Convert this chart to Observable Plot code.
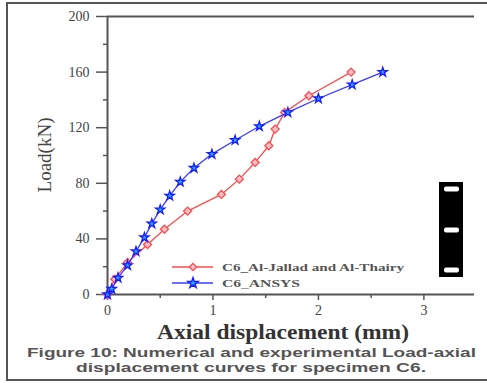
<!DOCTYPE html>
<html>
<head>
<meta charset="utf-8">
<script src="https://cdn.jsdelivr.net/npm/d3@7"></script>
<script src="https://cdn.jsdelivr.net/npm/@observablehq/plot@0.6"></script>
<style>
  html, body { margin: 0; padding: 0; background: #fff; }
  #wrap { position: relative; width: 487px; height: 383px; overflow: hidden; }
</style>
</head>
<body>
<div id="wrap"></div>
<script>
// ---- data ----
const expX = [0, 0.07, 0.19, 0.38, 0.54, 0.76, 1.08, 1.25, 1.40, 1.53, 1.59, 1.68, 1.91, 2.31];
const expY = [0, 11, 23, 36, 47, 60, 72, 83, 95, 107, 119, 131, 143, 160];
const ansX = [0, 0.04, 0.10, 0.19, 0.27, 0.35, 0.42, 0.50, 0.59, 0.69, 0.82, 0.99, 1.21, 1.44, 1.71, 2.00, 2.32, 2.61];
const ansY = [0, 4, 12, 21, 31, 41, 51, 61, 71, 81, 91, 101, 111, 121, 131, 141, 151, 160];
const yTicks = [0, 40, 80, 120, 160, 200];
const yMinor = [20, 60, 100, 140, 180];
const xTicks = [0, 1, 2, 3];
const xMinor = [0.5, 1.5, 2.5];
const seriesNames = ["C6_Al-Jallad and Al-Thairy", "C6_ANSYS"];
const xLabel = "Axial displacement (mm)";
const yLabel = "Load(kN)";
const captionLines = ["Figure 10: Numerical and experimental Load-axial", "displacement curves for specimen C6."];

const exp = expX.map((x, i) => ({x, y: expY[i]}));
const ans = ansX.map((x, i) => ({x, y: ansY[i]}));

const serif = "'Liberation Serif', 'Times New Roman', serif";
const axisCol = "#555";
const red = "#ff4a4a";
const blue = "#3a3aff";

const W = 487, H = 383;
const plot = Plot.plot({
  width: W, height: H,
  marginLeft: 107, marginRight: 13, marginTop: 16, marginBottom: 89,
  style: {background: "transparent", overflow: "visible", fontFamily: serif},
  x: {type: "linear", domain: [0, 3.48], axis: null},
  y: {type: "linear", domain: [0, 200], axis: null},
  marks: [
    // frame lines
    Plot.ruleY([200], {stroke: axisCol, strokeWidth: 2}),
    Plot.ruleY([0], {stroke: axisCol, strokeWidth: 2}),
    Plot.ruleX([0], {stroke: axisCol, strokeWidth: 2}),
    // axes
    Plot.axisY({ticks: yTicks, tickSize: 11, tickPadding: 7, stroke: axisCol, strokeWidth: 1.5,
      fontSize: 14, fill: "#444", label: null, anchor: "left", tickFormat: d3.format("d")}),
    Plot.axisY({ticks: yMinor, tickSize: 4, stroke: axisCol, strokeWidth: 1.5, tickFormat: () => "", label: null, anchor: "left"}),
    Plot.axisX({ticks: xTicks, tickSize: 6, tickPadding: 5, stroke: axisCol, strokeWidth: 1.5,
      fontSize: 14, fill: "#444", label: null, anchor: "bottom", tickFormat: d3.format("d")}),
    Plot.axisX({ticks: xMinor, tickSize: 4, stroke: axisCol, strokeWidth: 1.5, tickFormat: () => "", label: null, anchor: "bottom"}),
    // series
    Plot.line(exp, {x: "x", y: "y", stroke: red, strokeWidth: 1.3}),
    Plot.dot(exp, {x: "x", y: "y", symbol: "diamond2", r: 3.6, stroke: red, fill: "#ffc0c8", strokeWidth: 1.3}),
    Plot.line(ans, {x: "x", y: "y", stroke: blue, strokeWidth: 1.3}),
    Plot.dot(ans, {x: "x", y: "y", symbol: "star", r: 2.9, stroke: "#1a1aff", fill: "#22aaff", strokeWidth: 1.3}),
  ]
});

const svg = d3.select(plot);
svg.selectAll("g[aria-label$='tick label'] text").style("font-family", serif);
// y-axis label
svg.append("text")
  .attr("transform", "translate(51,155) rotate(-90)")
  .attr("text-anchor", "middle")
  .style("font-family", serif).attr("font-size", 19).attr("fill", "#444")
  .text(yLabel);
// x-axis label
svg.append("text")
  .attr("x", 157).attr("y", 339).attr("text-anchor", "start")
  .style("font-family", serif).attr("font-size", 20).attr("font-weight", "bold").attr("fill", "#333")
  .attr("textLength", 252).attr("lengthAdjust", "spacingAndGlyphs")
  .text(xLabel);
// legend
const leg = svg.append("g");
const legRows = [
  {y: 267, color: red, fill: "#ffc0c8", sym: d3.symbolDiamond2, stroke: red},
  {y: 283, color: blue, fill: "#22aaff", sym: d3.symbolStar, stroke: "#1a1aff"}
];
legRows.forEach((r, i) => {
  leg.append("line").attr("x1", 172).attr("x2", 213).attr("y1", r.y).attr("y2", r.y)
    .attr("stroke", r.color).attr("stroke-width", 1.5);
  leg.append("path").attr("transform", `translate(193,${r.y})`)
    .attr("d", d3.symbol(r.sym, 34)()).attr("fill", r.fill).attr("stroke", r.stroke).attr("stroke-width", 1.3);
  leg.append("text").attr("x", 222).attr("y", r.y + 4).attr("text-anchor", "start")
    .style("font-family", serif).attr("font-size", 11).attr("font-weight", "bold").attr("fill", "#555")
    .attr("textLength", i === 0 ? 182 : 78).attr("lengthAdjust", "spacingAndGlyphs")
    .text(seriesNames[i]);
});
// black artifact box
svg.append("rect").attr("x", 439).attr("y", 182).attr("width", 24).attr("height", 95).attr("fill", "#000");
[189, 230, 270].forEach(y => {
  svg.append("rect").attr("x", 444).attr("y", y - 2.5).attr("width", 15).attr("height", 5).attr("rx", 2)
    .attr("fill", "#fff");
});
// caption
captionLines.forEach((line, i) => {
  svg.append("text")
    .attr("x", i === 0 ? 27 : 76).attr("y", i === 0 ? 357 : 372).attr("text-anchor", "start")
    .style("font-family", "'Liberation Sans', Arial, sans-serif").attr("font-size", 12).attr("font-weight", "bold")
    .attr("fill", "#555")
    .attr("textLength", i === 0 ? 449 : 350).attr("lengthAdjust", "spacingAndGlyphs")
    .text(line);
});
// outer border
svg.append("rect").attr("x", 7).attr("y", 3).attr("width", 490).attr("height", 377)
  .attr("fill", "none").attr("stroke", "#555").attr("stroke-width", 2);

document.getElementById("wrap").appendChild(plot);
</script>
</body>
</html>
